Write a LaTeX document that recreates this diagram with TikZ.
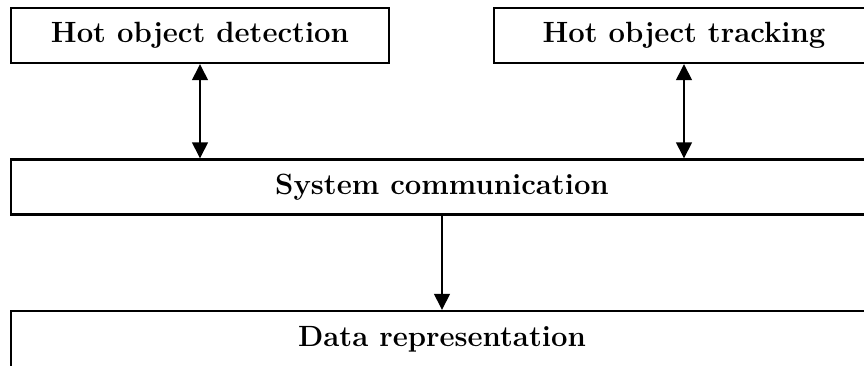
\documentclass[tikz,border=0pt]{standalone}
\usetikzlibrary{arrows.meta}
\tikzset{
  block/.style={draw, line width=2.4pt, inner sep=0pt, minimum height=55pt,
    font=\fontsize{29.3}{35}\selectfont\bfseries},
  link/.style={line width=1.4pt, {Triangle[width=16pt,length=16pt]}-{Triangle[width=16pt,length=16pt]}},
  flow/.style={line width=1.4pt, -{Triangle[width=16pt,length=16pt]}}
}
\begin{document}
\begin{tikzpicture}[x=1pt,y=-1pt]
  \useasboundingbox (0,0) rectangle (864,365);
  \node[block, minimum width=378pt] (det) at (200,35.5) {Hot object detection};
  \node[block, minimum width=380pt] (trk) at (684,35.5) {Hot object tracking};
  \node[block, minimum width=862pt] (com) at (442,187) {System communication};
  \node[block, minimum width=862pt, minimum height=56pt] (dat) at (442,339) {Data representation};
  \draw[link] (det.south) -- (det.south |- com.north);
  \draw[link] (trk.south) -- (trk.south |- com.north);
  \draw[flow] (com.south) -- (dat.north);
\end{tikzpicture}
\end{document}
